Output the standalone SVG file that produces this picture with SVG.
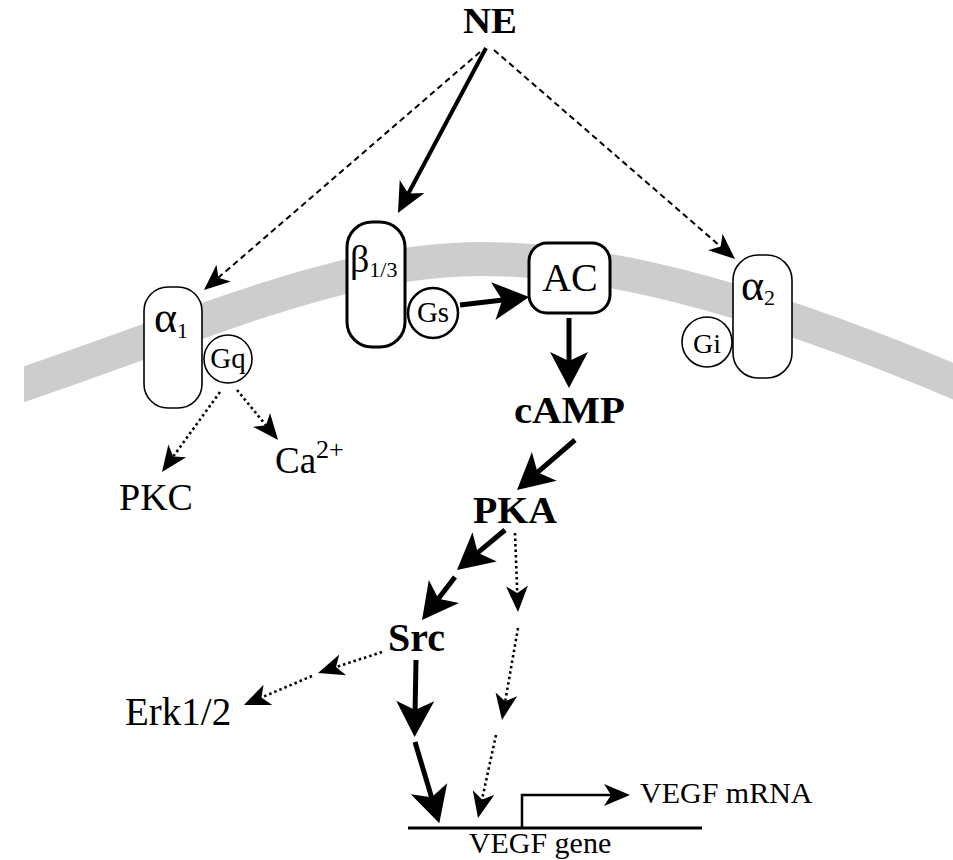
<svg xmlns="http://www.w3.org/2000/svg" width="953" height="860" viewBox="0 0 953 860">
<style>
text{font-family:"Liberation Serif","Times New Roman",serif;fill:#000}
.b{font-weight:bold}
.node{fill:#fff;stroke:#000}
.thin{stroke-width:1.6}
.thick{stroke-width:3}
.c{fill:none;stroke:#000;stroke-linecap:butt}
.solid{stroke-width:5}
.mid{stroke-width:4}
.dash{stroke-width:2;stroke-dasharray:6 4}
.dot{stroke-width:2.6;stroke-dasharray:2.5 3}
</style>
<defs>
<marker id="hb" markerUnits="userSpaceOnUse" markerWidth="40" markerHeight="40" refX="14" refY="19" orient="auto" viewBox="0 0 40 40" overflow="visible">
<path d="M0,0 L36,19 L0,38 L9,19 Z" fill="#000"/>
</marker>
<marker id="hm" markerUnits="userSpaceOnUse" markerWidth="32" markerHeight="32" refX="11" refY="14" orient="auto" viewBox="0 0 32 32" overflow="visible">
<path d="M0,0 L30,14 L0,28 L8,14 Z" fill="#000"/>
</marker>
<marker id="hs" markerUnits="userSpaceOnUse" markerWidth="28" markerHeight="28" refX="10" refY="11" orient="auto" viewBox="0 0 28 28" overflow="visible">
<path d="M0,0 L26,11 L0,22 L7,11 Z" fill="#000"/>
</marker>
<clipPath id="clipband"><rect x="24" y="0" width="929" height="860"/></clipPath>
</defs>
<g id="membrane" clip-path="url(#clipband)">
<path d="M10,389 C200,325 340,259 480,259 C560,259 690,270 960,384" fill="none" stroke="#cdcdcd" stroke-width="34"/>
</g>
<g id="node-NE"><text class="b" x="463" y="33" font-size="35" textLength="54" lengthAdjust="spacingAndGlyphs">NE</text></g>
<g id="node-alpha1">
<rect class="node thin" x="144" y="287" width="58" height="121" rx="24"/>
<text x="154" y="332" font-size="44">α<tspan font-size="22" dy="6">1</tspan></text>
</g>
<g id="node-Gq">
<circle class="node thin" cx="228" cy="359" r="24"/>
<text x="228" y="368" font-size="29" text-anchor="middle">Gq</text>
</g>
<g id="node-beta">
<rect class="node thick" x="347" y="222" width="58" height="125" rx="25"/>
<text x="350" y="272" font-size="38">β<tspan font-size="22" dy="5">1/3</tspan></text>
</g>
<g id="node-Gs">
<circle class="node" stroke-width="2.5" cx="433" cy="313" r="25"/>
<text x="433" y="322" font-size="29" text-anchor="middle">Gs</text>
</g>
<g id="node-AC">
<rect class="node thick" x="529" y="243" width="81" height="70" rx="18"/>
<text x="570" y="291" font-size="40" text-anchor="middle">AC</text>
</g>
<g id="node-alpha2">
<rect class="node thin" x="733" y="255" width="59" height="123" rx="25"/>
<text x="741" y="300" font-size="44">α<tspan font-size="22" dy="5">2</tspan></text>
</g>
<g id="node-Gi">
<circle class="node thin" cx="707" cy="342" r="25"/>
<text x="707" y="353" font-size="28" text-anchor="middle">Gi</text>
</g>
<g id="node-cAMP"><text class="b" x="514" y="423" font-size="38" textLength="111" lengthAdjust="spacingAndGlyphs">cAMP</text></g>
<g id="node-PKA"><text class="b" x="473" y="523" font-size="37" textLength="84" lengthAdjust="spacingAndGlyphs">PKA</text></g>
<g id="node-Src"><text class="b" x="388" y="651" font-size="40" textLength="57" lengthAdjust="spacingAndGlyphs">Src</text></g>
<g id="node-PKC"><text x="119" y="510" font-size="38">PKC</text></g>
<g id="node-Ca"><text x="275" y="473" font-size="37">Ca<tspan font-size="26" dy="-15">2+</tspan></text></g>
<g id="node-Erk"><text x="125" y="725" font-size="39">Erk1/2</text></g>
<g id="node-gene">
<line x1="408" y1="828" x2="702" y2="828" stroke="#000" stroke-width="3"/>
<text x="540" y="853" font-size="30" text-anchor="middle">VEGF gene</text>
</g>
<g id="node-mRNA"><text x="640" y="803" font-size="30">VEGF mRNA</text></g>
<g id="connectors">
<path class="c mid" d="M486,48 L406.9,196.2" marker-end="url(#hm)"/>
<path class="c dash" d="M480,52 L216.1,279.6" marker-end="url(#hs)"/>
<path class="c dash" d="M494,50 L722.9,248.5" marker-end="url(#hs)"/>
<path class="c solid" d="M460,305 L507.2,299.5" marker-end="url(#hb)"/>
<path class="c solid" d="M569,318 L569,366" marker-end="url(#hb)"/>
<path class="c solid" d="M575,440 L533.7,475.6" marker-end="url(#hb)"/>
<path class="c solid" d="M505,530 L473.9,555.9" marker-end="url(#hb)"/>
<path class="c solid" d="M455,577 L435.4,602.6" marker-end="url(#hb)"/>
<path class="c solid" d="M416,660 L415,715" marker-end="url(#hb)"/>
<path class="c solid" d="M415,742 L433,802.1" marker-end="url(#hb)"/>
<path class="c dot" d="M515,533 L517.4,596" marker-end="url(#hs)"/>
<path class="c dot" d="M518,628 L504.7,704.2" marker-end="url(#hs)"/>
<path class="c dot" d="M496,735 L481.4,802.4" marker-end="url(#hs)"/>
<path class="c dot" d="M382,652 L333.2,668" marker-end="url(#hs)"/>
<path class="c dot" d="M312,676 L258.7,698.7" marker-end="url(#hs)"/>
<path class="c dot" d="M220,392 L171.4,459" marker-end="url(#hs)"/>
<path class="c dot" d="M237,390 L267.9,427.6" marker-end="url(#hs)"/>
<path class="c" stroke-width="2.5" d="M522,828 L522,795 L614,795" marker-end="url(#hs)"/>
</g>
</svg>
